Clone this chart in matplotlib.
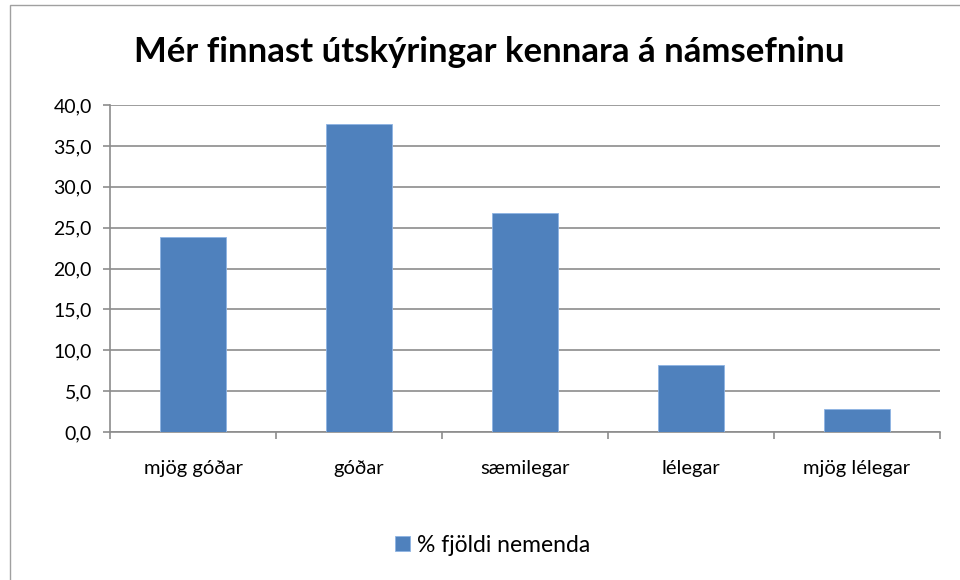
import matplotlib
matplotlib.use("Agg")
import matplotlib.pyplot as plt
from matplotlib.patches import Rectangle
import numpy as np

categories = ["mjög góðar", "góðar", "sæmilegar", "lélegar", "mjög lélegar"]
values = [23.9, 37.7, 26.8, 8.2, 2.8]
series_name = "% fjöldi nemenda"
title = "Mér finnast útskýringar kennara á námsefninu"
yticks = [0, 5, 10, 15, 20, 25, 30, 35, 40]

plt.rcParams['font.family'] = ['Lato', 'DejaVu Sans']

W, H = 960, 580
fig = plt.figure(figsize=(W/100, H/100), dpi=100)
fig.patch.set_facecolor("white")

# outer chart border
fig.patches.append(Rectangle((10/W, -0.1), 1.2, (H-5)/H + 0.1, transform=fig.transFigure,
                             fill=False, edgecolor="#A0A0A0", linewidth=1.0))

ax = fig.add_axes([110/W, 1-432/H, 830/W, (432-105)/H])
x = np.arange(len(categories))
bars = ax.bar(x, values, width=0.4, color="#4F81BD", edgecolor="#8EB4E3", linewidth=0.6,
              label=series_name, zorder=3)

ax.set_xlim(-0.5, len(categories)-0.5)
ax.set_ylim(0, 40)
ax.set_yticks(yticks)
ax.set_yticklabels([f"{v:.1f}".replace(".", ",") for v in yticks], fontsize=14)
ax.yaxis.grid(True, color="#8C8C8C", linewidth=1.2, zorder=0)
ax.set_xticks(x)
ax.set_xticklabels(categories, fontsize=14.5)
ax.set_xticks(np.arange(-0.5, len(categories)), minor=True)
ax.tick_params(axis="x", which="major", length=0, pad=20)
ax.tick_params(axis="x", which="minor", length=5, color="#8C8C8C", width=1.2)
ax.tick_params(axis="y", length=5, color="#8C8C8C", width=1.2, pad=8)

for s in ["top", "right"]:
    ax.spines[s].set_visible(False)
for s in ["left", "bottom"]:
    ax.spines[s].set_color("#8C8C8C")
    ax.spines[s].set_linewidth(1.2)

fig.text(489/W, 1-52/H, title, ha="center", va="center", fontsize=25, fontweight="bold")

leg = fig.legend(handles=[bars], labels=[series_name], loc="center",
                 bbox_to_anchor=(493/W, 1-545/H), frameon=False, fontsize=16.5,
                 handlelength=0.65, handleheight=0.65, handletextpad=0.3)

fig.savefig("out.png", dpi=100)
